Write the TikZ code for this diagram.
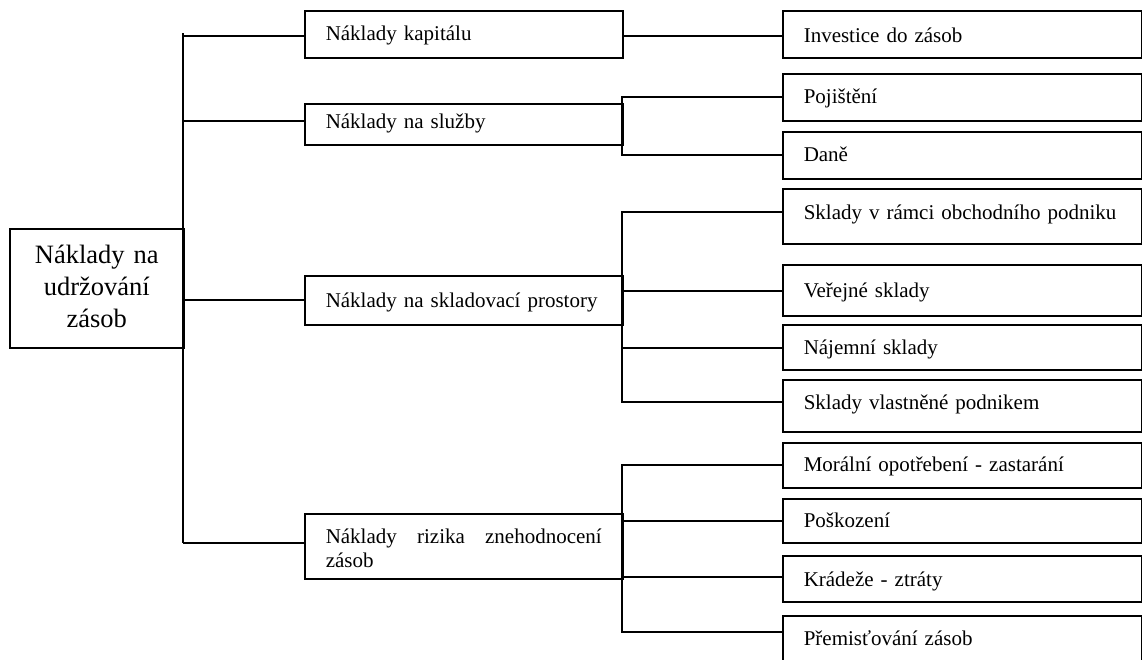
\documentclass[tikz,border=0pt]{standalone}
\usepackage{fontspec}
\setmainfont{Liberation Serif}
\begin{document}
\begin{tikzpicture}[x=1pt,y=-1pt,
  box/.style={draw, line width=1.5pt, anchor=north west, inner ysep=0pt, inner xsep=21pt,
    font=\fontsize{21}{24}\selectfont, align=left,
    execute at begin node={\hyphenpenalty=10000\relax}},
  mid/.style={box, text width=276pt},
  leaf/.style={box, text width=317pt},
  link/.style={line width=1.5pt}]
\useasboundingbox (0,0) rectangle (1142,659);

% root
\node[draw, line width=1.5pt, anchor=north west, inner sep=0pt, text width=174pt, align=center,
  font=\fontsize{26.5}{32}\selectfont, text height=35pt, text depth=84pt]
  (root) at (9,228) {Náklady na\\udržování\\zásob};

% level 2
\node[mid, text height=30pt, text depth=17pt] (kap) at (304,10) {Náklady kapitálu};
\node[mid, text height=25pt, text depth=16pt] (sluz) at (304,103) {Náklady na služby};
\node[mid, text height=32pt, text depth=17pt] (skl) at (304,275) {Náklady na skladovací prostory};
\node[mid, align=justify, text height=30pt, text depth=35pt] (riz) at (304,513) {Náklady rizika znehodnocení zásob};

% level 3
\node[leaf, text height=32pt, text depth=15pt] (inv) at (782,10) {Investice do zásob};
\node[leaf, text height=30pt, text depth=17pt] (poj) at (782,73) {Pojištění};
\node[leaf, text height=30pt, text depth=17pt] (dan) at (782,131) {Daně};
\node[leaf, text height=31pt, text depth=24pt] (ramci) at (782,188) {Sklady v rámci obchodního podniku};
\node[leaf, text height=33pt, text depth=18pt] (verej) at (782,264) {Veřejné sklady};
\node[leaf, text height=30pt, text depth=15pt] (najem) at (782,324) {Nájemní sklady};
\node[leaf, text height=30pt, text depth=22pt] (vlast) at (782,379) {Sklady vlastněné podnikem};
\node[leaf, text height=29pt, text depth=16pt] (moral) at (782,442) {Morální opotřebení - zastarání};
\node[leaf, text height=29pt, text depth=15pt] (posk) at (782,498) {Poškození};
\node[leaf, text height=31pt, text depth=15pt] (krad) at (782,555) {Krádeže - ztráty};
\node[leaf, text height=30pt, text depth=40pt] (prem) at (782,615) {Přemisťování zásob};

% main trunk
\coordinate (tTop) at (183,33);
\coordinate (jA) at (183,36);
\coordinate (jB) at (183,121);
\coordinate (jC) at (183,300);
\coordinate (jD) at (183,543);
\draw[link] (tTop) -- (jD);
\draw[link] (jA) -- (jA -| kap.west);
\draw[link] (jB) -- (jB -| sluz.west);
\draw[link] (jC) -- (jC -| skl.west);
\draw[link] (jD) -- (jD -| riz.west);

% kapital
\coordinate (kA) at (622,36);
\draw[link] (kA) -- (kA -| inv.west);

% sluzby
\coordinate (s1) at (622,97);
\coordinate (s2) at (622,155);
\draw[link] (s1 -| poj.west) -- (s1) -- (s2) -- (s2 -| dan.west);

% skladovaci
\coordinate (p1) at (622,212);
\coordinate (p2) at (622,291);
\coordinate (p3) at (622,348);
\coordinate (p4) at (622,402);
\draw[link] (p1 -| ramci.west) -- (p1) -- (p4) -- (p4 -| vlast.west);
\draw[link] (p2) -- (p2 -| verej.west);
\draw[link] (p3) -- (p3 -| najem.west);

% rizika
\coordinate (r1) at (622,465);
\coordinate (r2) at (622,521);
\coordinate (r3) at (622,577);
\coordinate (r4) at (622,632);
\draw[link] (r1 -| moral.west) -- (r1) -- (r4) -- (r4 -| prem.west);
\draw[link] (r2) -- (r2 -| posk.west);
\draw[link] (r3) -- (r3 -| krad.west);
\end{tikzpicture}
\end{document}
